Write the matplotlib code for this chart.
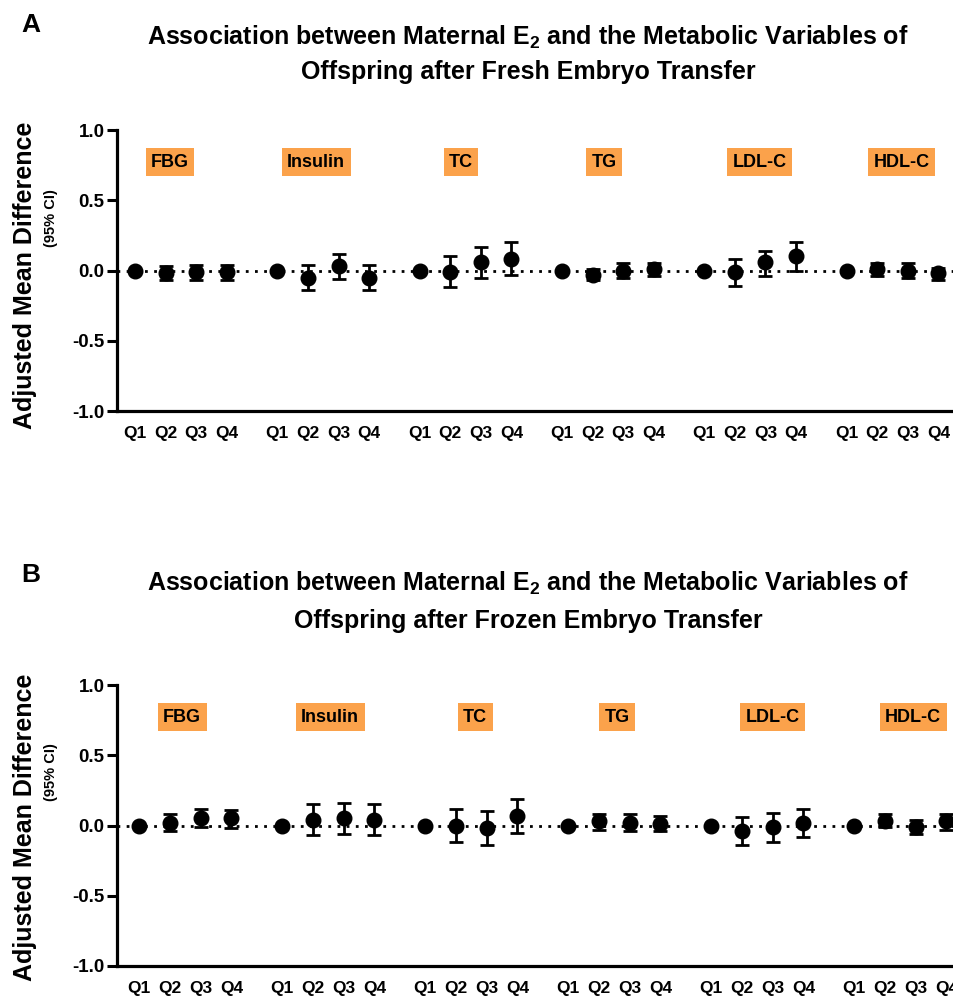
import numpy as np
import matplotlib
matplotlib.use('Agg')
import matplotlib.pyplot as plt

plt.rcParams['font.family'] = ['Liberation Sans', 'DejaVu Sans']
plt.rcParams['font.weight'] = 'bold'
plt.rcParams['mathtext.fontset'] = 'custom'
plt.rcParams['mathtext.rm'] = 'Liberation Sans'
plt.rcParams['mathtext.bf'] = 'Liberation Sans:bold'

variables = ["FBG", "Insulin", "TC", "TG", "LDL-C", "HDL-C"]
quartiles = ["Q1", "Q2", "Q3", "Q4"]

# panel A: fresh embryo transfer (mean, lower, upper) per variable, Q1..Q4
fresh_mean = [[0, -0.02, -0.01, -0.01],
              [0, -0.05, 0.03, -0.05],
              [0, -0.01, 0.06, 0.08],
              [0, -0.03, 0.00, 0.01],
              [0, -0.01, 0.06, 0.10],
              [0, 0.01, 0.00, -0.02]]
fresh_low = [[0, -0.07, -0.07, -0.07],
             [0, -0.14, -0.06, -0.14],
             [0, -0.12, -0.05, -0.03],
             [0, -0.07, -0.05, -0.04],
             [0, -0.11, -0.04, 0.00],
             [0, -0.04, -0.05, -0.07]]
fresh_high = [[0, 0.03, 0.04, 0.04],
              [0, 0.04, 0.12, 0.04],
              [0, 0.10, 0.17, 0.20],
              [0, 0.01, 0.05, 0.05],
              [0, 0.08, 0.14, 0.20],
              [0, 0.05, 0.05, 0.02]]

# panel B: frozen embryo transfer
frozen_mean = [[0, 0.02, 0.05, 0.05],
               [0, 0.04, 0.05, 0.04],
               [0, 0.00, -0.02, 0.07],
               [0, 0.03, 0.02, 0.01],
               [0, -0.04, -0.01, 0.02],
               [0, 0.03, -0.01, 0.03]]
frozen_low = [[0, -0.04, -0.01, -0.02],
              [0, -0.07, -0.06, -0.07],
              [0, -0.12, -0.14, -0.05],
              [0, -0.03, -0.04, -0.04],
              [0, -0.14, -0.12, -0.08],
              [0, -0.01, -0.06, -0.03]]
frozen_high = [[0, 0.08, 0.12, 0.11],
               [0, 0.15, 0.16, 0.15],
               [0, 0.12, 0.10, 0.19],
               [0, 0.08, 0.08, 0.07],
               [0, 0.06, 0.09, 0.12],
               [0, 0.08, 0.04, 0.08]]

GROUP_STEP = 4.65
ORANGE = '#FBA24B'

fig = plt.figure(figsize=(9.54, 10.02), dpi=100)


def draw_panel(rect, xlim, mean, low, high, label_x, letter, letter_y, title_lines, title_y, ylab_y):
    ax = fig.add_axes(rect)
    mean = np.array(mean, dtype=float)
    low = np.array(low, dtype=float)
    high = np.array(high, dtype=float)
    xs = np.array([[g * GROUP_STEP + i for i in range(4)] for g in range(len(variables))])

    ax.axhline(0, color='black', lw=2, ls=(0, (1, 2.3)), zorder=1)
    yerr = np.vstack([(mean - low).ravel(), (high - mean).ravel()])
    ax.errorbar(xs.ravel(), mean.ravel(), yerr=yerr, fmt='o', color='black',
                ms=10.5, elinewidth=2, capsize=5, capthick=2, zorder=3)

    for name, lx in zip(variables, label_x):
        ax.text(lx, 0.77, name, ha='center', va='center', fontsize=13, fontweight='bold',
                bbox=dict(boxstyle='square,pad=0.3', fc=ORANGE, ec='none'))

    ax.set_xlim(*xlim)
    ax.set_ylim(-1, 1)
    ax.set_yticks([-1, -0.5, 0, 0.5, 1])
    ax.set_yticklabels(['-1.0', '-0.5', '0.0', '0.5', '1.0'])
    ax.set_xticks(xs.ravel())
    ax.set_xticklabels(quartiles * len(variables))
    ax.tick_params(axis='x', length=0, pad=11, labelsize=12.5)
    ax.tick_params(axis='y', length=7, width=2.2, pad=2, labelsize=13.5)
    for t in ax.get_xticklabels() + ax.get_yticklabels():
        t.set_fontweight('bold')
    ax.spines['top'].set_visible(False)
    ax.spines['right'].set_visible(False)
    ax.spines['left'].set_linewidth(2.3)
    ax.spines['bottom'].set_linewidth(2.3)

    fig.text(31 / 954, 1 - letter_y / 1002, letter, fontsize=19, fontweight='bold',
             ha='center', va='center')
    for line, ty in zip(title_lines, title_y):
        fig.text(528 / 954, 1 - ty / 1002, line, fontsize=18, fontweight='bold',
                 ha='center', va='baseline')
    fig.text(25 / 954, 1 - ylab_y[0] / 1002, 'Adjusted Mean Difference', rotation=90,
             fontsize=18, fontweight='bold', ha='center', va='center')
    fig.text(51 / 954, 1 - ylab_y[1] / 1002, '(95% CI)', rotation=90,
             fontsize=10.5, fontweight='bold', ha='center', va='center')
    return ax


draw_panel([117 / 954, 1 - 411 / 1002, 1 - 117 / 954, 281 / 1002], (-0.59, 26.76),
           fresh_mean, fresh_low, fresh_high,
           [1.14, 5.92, 10.65, 15.33, 20.4, 25.05], 'A', 25,
           [r'Association between Maternal E$_\mathbf{2}$ and the Metabolic Variables of',
            'Offspring after Fresh Embryo Transfer'], [45, 79], (275, 218))

draw_panel([117 / 954, 1 - 966 / 1002, 1 - 117 / 954, 281 / 1002], (-0.72, 26.5),
           frozen_mean, frozen_low, frozen_high,
           [1.4, 6.21, 10.93, 15.54, 20.6, 25.17], 'B', 575,
           [r'Association between Maternal E$_\mathbf{2}$ and the Metabolic Variables of',
            'Offspring after Frozen Embryo Transfer'], [591, 628], (827, 772))

fig.savefig('out.png', dpi=100)
